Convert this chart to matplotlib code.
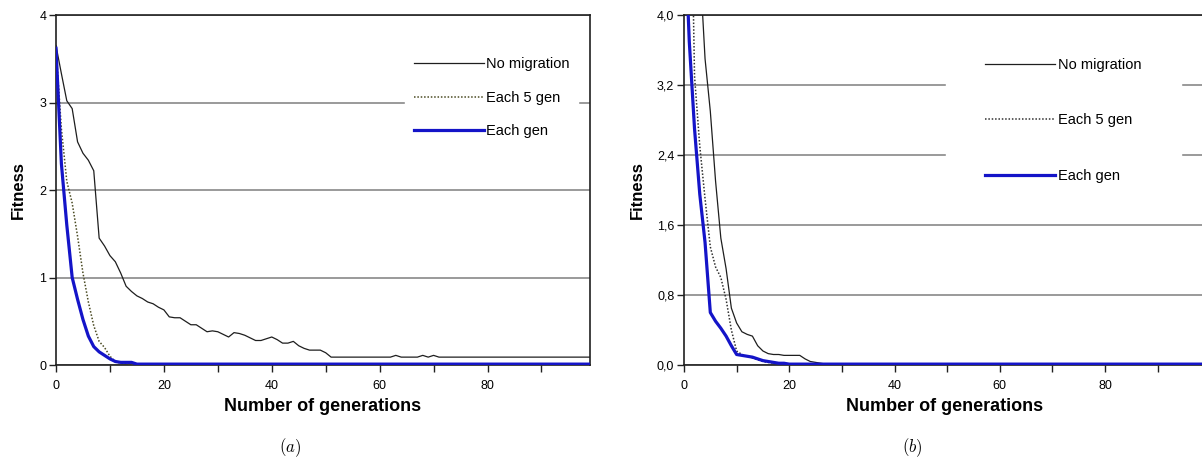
import numpy as np
import matplotlib
matplotlib.use("Agg")
import matplotlib.pyplot as plt

plt.rcParams["font.family"] = ["Liberation Sans", "DejaVu Sans"]
plt.rcParams["mathtext.fontset"] = "cm"

generations = np.arange(100)

# panel (a)
a_no_migration = [
    3.65, 3.33, 3.02, 2.93, 2.55, 2.42, 2.34, 2.22, 1.45, 1.36,
    1.25, 1.18, 1.05, 0.90, 0.84, 0.79, 0.76, 0.72, 0.70, 0.66,
    0.63, 0.55, 0.54, 0.54, 0.50, 0.46, 0.46, 0.42, 0.38, 0.39,
    0.38, 0.35, 0.32, 0.37, 0.36, 0.34, 0.31, 0.28, 0.28, 0.30,
    0.32, 0.29, 0.25, 0.25, 0.27, 0.22, 0.19, 0.17, 0.17, 0.17,
    0.14, 0.09, 0.09, 0.09, 0.09, 0.09, 0.09, 0.09, 0.09, 0.09,
    0.09, 0.09, 0.09, 0.11, 0.09, 0.09, 0.09, 0.09, 0.11, 0.09,
    0.11, 0.09, 0.09, 0.09, 0.09, 0.09, 0.09, 0.09, 0.09, 0.09,
    0.09, 0.09, 0.09, 0.09, 0.09, 0.09, 0.09, 0.09, 0.09, 0.09,
    0.09, 0.09, 0.09, 0.09, 0.09, 0.09, 0.09, 0.09, 0.09, 0.09,
]
a_each5 = [
    3.62, 2.70, 2.10, 1.85, 1.47, 1.05, 0.72, 0.45, 0.27, 0.20,
    0.10, 0.04, 0.02, 0.02, 0.01, 0.01, 0.01, 0.01, 0.01, 0.01,
    0.01, 0.01, 0.01, 0.01, 0.01, 0.01, 0.01, 0.01, 0.01, 0.01,
    0.01, 0.01, 0.01, 0.01, 0.01, 0.01, 0.01, 0.01, 0.01, 0.01,
    0.01, 0.01, 0.01, 0.01, 0.01, 0.01, 0.01, 0.01, 0.01, 0.01,
    0.01, 0.01, 0.01, 0.01, 0.01, 0.01, 0.01, 0.01, 0.01, 0.01,
    0.01, 0.01, 0.01, 0.01, 0.01, 0.01, 0.01, 0.01, 0.01, 0.01,
    0.01, 0.01, 0.01, 0.01, 0.01, 0.01, 0.01, 0.01, 0.01, 0.01,
    0.01, 0.01, 0.01, 0.01, 0.01, 0.01, 0.01, 0.01, 0.01, 0.01,
    0.01, 0.01, 0.01, 0.01, 0.01, 0.01, 0.01, 0.01, 0.01, 0.01,
]
a_each_gen = [
    3.62, 2.30, 1.60, 1.00, 0.75, 0.52, 0.33, 0.21, 0.15, 0.11,
    0.07, 0.04, 0.03, 0.03, 0.03, 0.01, 0.01, 0.01, 0.01, 0.01,
    0.01, 0.01, 0.01, 0.01, 0.01, 0.01, 0.01, 0.01, 0.01, 0.01,
    0.01, 0.01, 0.01, 0.01, 0.01, 0.01, 0.01, 0.01, 0.01, 0.01,
    0.01, 0.01, 0.01, 0.01, 0.01, 0.01, 0.01, 0.01, 0.01, 0.01,
    0.01, 0.01, 0.01, 0.01, 0.01, 0.01, 0.01, 0.01, 0.01, 0.01,
    0.01, 0.01, 0.01, 0.01, 0.01, 0.01, 0.01, 0.01, 0.01, 0.01,
    0.01, 0.01, 0.01, 0.01, 0.01, 0.01, 0.01, 0.01, 0.01, 0.01,
    0.01, 0.01, 0.01, 0.01, 0.01, 0.01, 0.01, 0.01, 0.01, 0.01,
    0.01, 0.01, 0.01, 0.01, 0.01, 0.01, 0.01, 0.01, 0.01, 0.01,
]

# panel (b), values above 4 are cut off by the axis
b_no_migration = [
    5.50, 5.10, 4.80, 4.60, 3.50, 2.90, 2.10, 1.45, 1.10, 0.65,
    0.48, 0.38, 0.35, 0.33, 0.22, 0.16, 0.13, 0.12, 0.12, 0.11,
    0.11, 0.11, 0.11, 0.07, 0.04, 0.03, 0.02, 0.01, 0.01, 0.01,
    0.01, 0.01, 0.01, 0.01, 0.01, 0.01, 0.01, 0.01, 0.01, 0.01,
    0.01, 0.01, 0.01, 0.01, 0.01, 0.01, 0.01, 0.01, 0.01, 0.01,
    0.01, 0.01, 0.01, 0.01, 0.01, 0.01, 0.01, 0.01, 0.01, 0.01,
    0.01, 0.01, 0.01, 0.01, 0.01, 0.01, 0.01, 0.01, 0.01, 0.01,
    0.01, 0.01, 0.01, 0.01, 0.01, 0.01, 0.01, 0.01, 0.01, 0.01,
    0.01, 0.01, 0.01, 0.01, 0.01, 0.01, 0.01, 0.01, 0.01, 0.01,
    0.01, 0.01, 0.01, 0.01, 0.01, 0.01, 0.01, 0.01, 0.01, 0.01,
]
b_each5 = [
    7.50, 6.80, 3.30, 2.50, 1.90, 1.35, 1.12, 1.00, 0.75, 0.40,
    0.16, 0.12, 0.10, 0.08, 0.06, 0.04, 0.03, 0.02, 0.02, 0.01,
    0.01, 0.01, 0.01, 0.01, 0.01, 0.01, 0.01, 0.01, 0.01, 0.01,
    0.01, 0.01, 0.01, 0.01, 0.01, 0.01, 0.01, 0.01, 0.01, 0.01,
    0.01, 0.01, 0.01, 0.01, 0.01, 0.01, 0.01, 0.01, 0.01, 0.01,
    0.01, 0.01, 0.01, 0.01, 0.01, 0.01, 0.01, 0.01, 0.01, 0.01,
    0.01, 0.01, 0.01, 0.01, 0.01, 0.01, 0.01, 0.01, 0.01, 0.01,
    0.01, 0.01, 0.01, 0.01, 0.01, 0.01, 0.01, 0.01, 0.01, 0.01,
    0.01, 0.01, 0.01, 0.01, 0.01, 0.01, 0.01, 0.01, 0.01, 0.01,
    0.01, 0.01, 0.01, 0.01, 0.01, 0.01, 0.01, 0.01, 0.01, 0.01,
]
b_each_gen = [
    5.20, 3.70, 2.70, 1.95, 1.40, 0.60, 0.50, 0.42, 0.33, 0.22,
    0.12, 0.11, 0.10, 0.09, 0.07, 0.05, 0.04, 0.03, 0.02, 0.02,
    0.01, 0.01, 0.01, 0.01, 0.01, 0.01, 0.01, 0.01, 0.01, 0.01,
    0.01, 0.01, 0.01, 0.01, 0.01, 0.01, 0.01, 0.01, 0.01, 0.01,
    0.01, 0.01, 0.01, 0.01, 0.01, 0.01, 0.01, 0.01, 0.01, 0.01,
    0.01, 0.01, 0.01, 0.01, 0.01, 0.01, 0.01, 0.01, 0.01, 0.01,
    0.01, 0.01, 0.01, 0.01, 0.01, 0.01, 0.01, 0.01, 0.01, 0.01,
    0.01, 0.01, 0.01, 0.01, 0.01, 0.01, 0.01, 0.01, 0.01, 0.01,
    0.01, 0.01, 0.01, 0.01, 0.01, 0.01, 0.01, 0.01, 0.01, 0.01,
    0.01, 0.01, 0.01, 0.01, 0.01, 0.01, 0.01, 0.01, 0.01, 0.01,
]

labels = ["No migration", "Each 5 gen", "Each gen"]
a_yticks = [0, 1, 2, 3, 4]
b_yticks = [0.0, 0.8, 1.6, 2.4, 3.2, 4.0]

W, H = 1202, 461
fig = plt.figure(figsize=(W / 100, H / 100), dpi=100)
ax_a = fig.add_axes([56 / W, 1 - 365 / H, 534 / W, 350 / H])
ax_b = fig.add_axes([684 / W, 1 - 365 / H, 521 / W, 350 / H])


def draw_panel(ax, no_mig, each5, each_gen, yticks, ylabels, dotted_color,
               leg_anchor, leg_space, leg_pad):
    ax.plot(generations, no_mig, color="#1e1e1e", lw=0.9, label=labels[0], zorder=3)
    ax.plot(generations, each5, color=dotted_color, lw=1.1, ls=(0, (1, 1.2)),
            label=labels[1], zorder=3)
    ax.plot(generations, each_gen, color="#1414c8", lw=2.3, label=labels[2], zorder=4)

    ax.set_xlim(0, 99)
    ax.set_ylim(0, 4)
    ax.set_yticks(yticks)
    ax.set_yticklabels(ylabels)
    ax.set_xticks([0, 20, 40, 60, 80])
    ax.set_xticks([10, 30, 50, 70, 90], minor=True)
    ax.tick_params(axis="both", which="both", direction="out", length=5, width=1,
                   color="#202020", labelsize=9)
    ax.tick_params(axis="x", pad=6)
    ax.tick_params(axis="y", pad=2)

    ax.set_axisbelow(True)
    ax.yaxis.grid(True, color="#9a9a9a", lw=1.4)
    for sp in ax.spines.values():
        sp.set_color("#202020")
        sp.set_linewidth(1.2)

    ax.set_xlabel("Number of generations", fontsize=13, fontweight="bold", labelpad=4)
    ax.set_ylabel("Fitness", fontsize=12, fontweight="bold")

    leg = ax.legend(loc="upper left", bbox_to_anchor=leg_anchor, frameon=True,
                    fancybox=False, framealpha=1, facecolor="white", edgecolor="white",
                    fontsize=10.5, handlelength=4.8, handletextpad=0.15,
                    labelspacing=leg_space, borderpad=leg_pad, borderaxespad=0)
    leg.set_zorder(2.4)


draw_panel(ax_a, a_no_migration, a_each5, a_each_gen, a_yticks,
           [str(v) for v in a_yticks], "#4a4a22", (0.654, 0.905), 1.35, 0.6)
draw_panel(ax_b, b_no_migration, b_each5, b_each_gen, b_yticks,
           [f"{v:.1f}".replace(".", ",") for v in b_yticks], "#303030",
           (0.503, 0.99), 2.85, 2.7)

ax_a.yaxis.set_label_coords(-0.056, 0.5)
ax_b.yaxis.set_label_coords(-0.075, 0.5)

fig.text(290 / W, 1 - 448 / H, r"$(a)$", ha="center", va="center", fontsize=12)
fig.text(912 / W, 1 - 448 / H, r"$(b)$", ha="center", va="center", fontsize=12)

fig.savefig("out.png", dpi=100)
